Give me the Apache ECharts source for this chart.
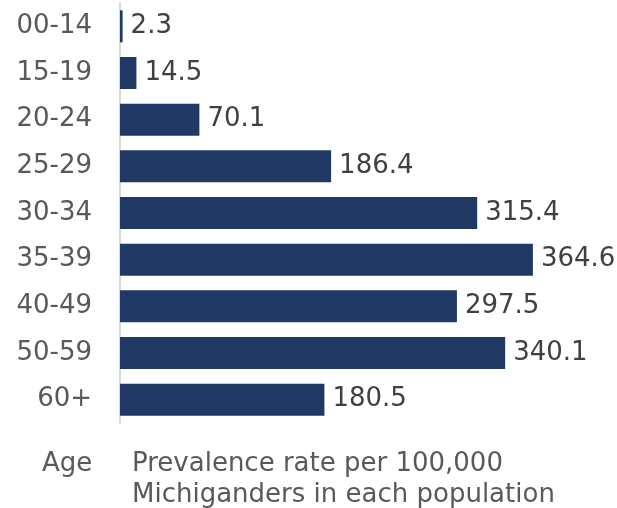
<!DOCTYPE html>
<html><head><meta charset="utf-8">
<script src="https://cdn.jsdelivr.net/npm/echarts@6/dist/echarts.min.js"></script>
<style>html,body{margin:0;padding:0;background:#fff}#c{width:617px;height:508px}</style>
</head><body><div id="c"></div>
<script>
const categories = ["00-14","15-19","20-24","25-29","30-34","35-39","40-49","50-59","60+"];
const values = [2.3,14.5,70.1,186.4,315.4,364.6,297.5,340.1,180.5];
const axisTitle = "Age";
const valueTitle = "Prevalence rate per 100,000\nMichiganders in each population";

const FONT = "DejaVu Sans";
const chart = echarts.init(document.getElementById('c'), null, {renderer:'canvas'});
chart.setOption({
  animation: false,
  backgroundColor: '#fff',
  title: [
    {text: axisTitle, left: 37, top: 444, textStyle:{fontFamily:FONT, fontSize:26, fontWeight:'normal', color:'#595959', lineHeight:31}},
    {text: valueTitle, left: 127, top: 444, textStyle:{fontFamily:FONT, fontSize:26, fontWeight:'normal', color:'#595959', lineHeight:31}}
  ],
  grid: {left: 120, top: 3, width: 453, height: 420, containLabel: false},
  xAxis: {type:'value', min:0, max:400, show:false},
  yAxis: {
    type:'category', data: categories, inverse: true,
    axisLine:{show:true, lineStyle:{color:'#d9d9d9', width:2}},
    axisTick:{show:false},
    axisLabel:{fontFamily:FONT, fontSize:26, color:'#595959', margin:28, padding:[4,0,0,0]}
  },
  series: [{
    type:'bar', data: values, barWidth: 32,
    itemStyle:{color:'#1F3864'},
    label:{show:true, position:'right', distance:8, fontFamily:FONT, fontSize:26, color:'#404040', padding:[4,0,0,0]}
  }]
});
</script></body></html>
